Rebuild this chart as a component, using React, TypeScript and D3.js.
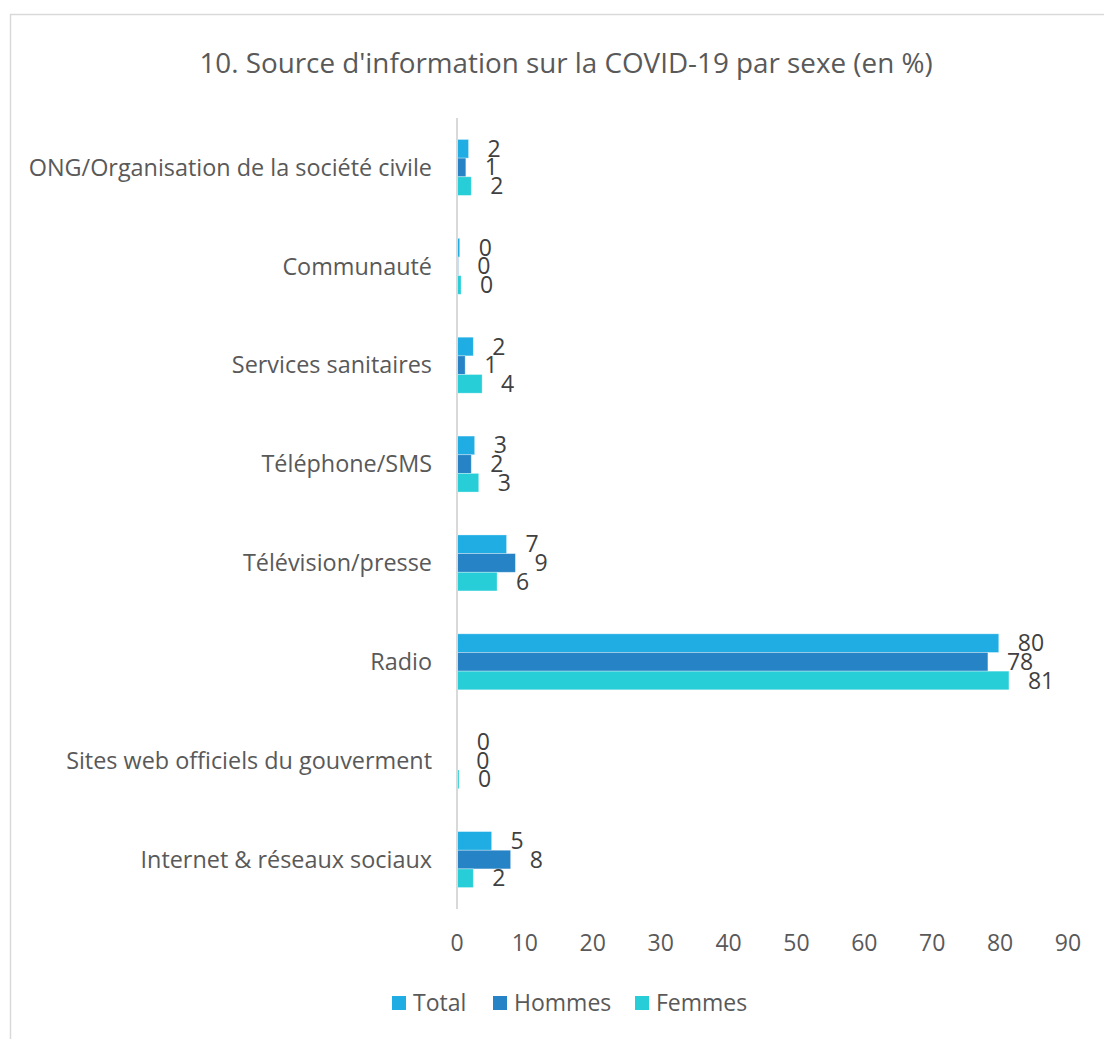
import React from "react";
import * as d3 from "d3";

const categories = [
  "ONG/Organisation de la société civile",
  "Communauté",
  "Services sanitaires",
  "Téléphone/SMS",
  "Télévision/presse",
  "Radio",
  "Sites web officiels du gouverment",
  "Internet & réseaux sociaux",
];
const seriesNames = ["Total", "Hommes", "Femmes"];
const totalValues = [1.7, 0.4, 2.4, 2.6, 7.3, 79.8, 0.1, 5.1];
const hommesValues = [1.3, 0.2, 1.2, 2.1, 8.6, 78.2, 0.05, 7.9];
const femmesValues = [2.1, 0.6, 3.7, 3.2, 5.9, 81.3, 0.3, 2.4];
const labelTotal = ["2", "0", "2", "3", "7", "80", "0", "5"];
const labelHommes = ["1", "0", "1", "2", "9", "78", "0", "8"];
const labelFemmes = ["2", "0", "4", "3", "6", "81", "0", "2"];
const xTicks = [0, 10, 20, 30, 40, 50, 60, 70, 80, 90];
const colors = ["#1FADE4", "#2683C6", "#27CED7"];
const title = "10. Source d'information sur la COVID-19 par sexe (en %)";

const W = 1104;
const H = 1039;
const FONT = "'Open Sans', sans-serif";
const TEXT = "#595959";

export default function App() {
  const x = d3.scaleLinear().domain([0, 90]).range([457, 1068]);
  const y = d3
    .scaleBand<string>()
    .domain(categories)
    .range([118, 909])
    .paddingInner(0.434)
    .paddingOuter(0.217);
  const inner = d3
    .scaleBand<string>()
    .domain(seriesNames)
    .range([0, y.bandwidth()])
    .padding(0);
  const values = [totalValues, hommesValues, femmesValues];
  const labels = [labelTotal, labelHommes, labelFemmes];

  return (
    <svg
      width={W}
      height={H}
      style={{ position: "absolute", left: 0, top: 0, background: "#fff" }}
      fontFamily={FONT}
    >
      <rect x={0} y={0} width={W} height={H} fill="#fff" />
      <rect x={10.5} y={14.5} width={1200} height={1200} fill="none" stroke="#D9D9D9" strokeWidth={1.5} />
      <text x={566} y={73} textAnchor="middle" fontSize={27.8} fill={TEXT}>
        {title}
      </text>
      {categories.map((c, i) => (
        <g key={c}>
          <text
            x={432}
            y={(y(c) as number) + y.bandwidth() / 2}
            dy="0.35em"
            textAnchor="end"
            fontSize={23.4}
            fill={TEXT}
          >
            {c}
          </text>
          {seriesNames.map((s, k) => {
            const v = values[k][i];
            const by = (y(c) as number) + (inner(s) as number);
            return (
              <g key={s}>
                <rect
                  x={x(0)}
                  y={by}
                  width={Math.max(0, x(v) - x(0))}
                  height={inner.bandwidth()}
                  fill={colors[k]}
                  stroke="#ffffff"
                  strokeOpacity={0.4}
                  strokeWidth={0.8}
                />
                <text
                  x={x(v) + 19}
                  y={by + inner.bandwidth() / 2}
                  dy="0.35em"
                  fontSize={23}
                  fill="#404040"
                >
                  {labels[k][i]}
                </text>
              </g>
            );
          })}
        </g>
      ))}
      <line x1={x(0)} x2={x(0)} y1={118} y2={909} stroke="#D9D9D9" strokeWidth={2} />
      {xTicks.map((t) => (
        <text key={t} x={x(t)} y={943} dy="0.35em" textAnchor="middle" fontSize={23} fill={TEXT}>
          {t}
        </text>
      ))}
      {seriesNames.map((s, k) => {
        const lx = [392, 493, 635][k];
        return (
          <g key={s}>
            <rect x={lx} y={996} width={14} height={14} fill={colors[k]} />
            <text x={lx + 21} y={1003} dy="0.35em" fontSize={23} fill={TEXT}>
              {s}
            </text>
          </g>
        );
      })}
    </svg>
  );
}
